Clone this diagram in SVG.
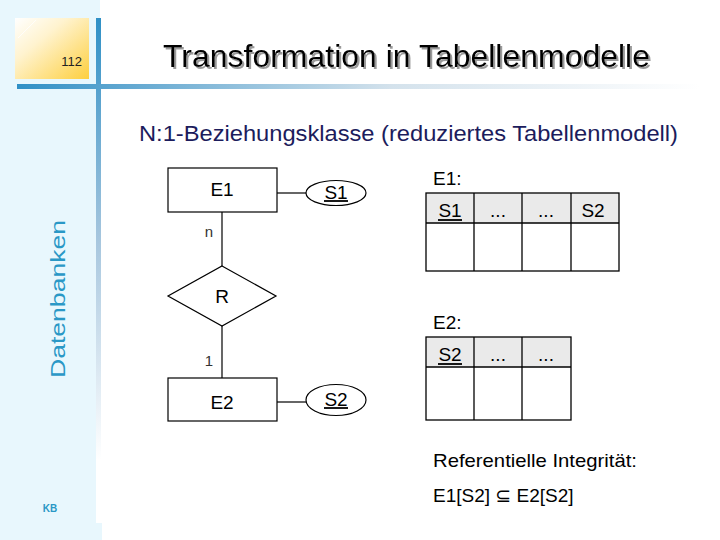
<svg xmlns="http://www.w3.org/2000/svg" width="720" height="540" viewBox="0 0 720 540">
  <defs>
    <linearGradient id="gOrange" x1="0" y1="0" x2="1" y2="1">
      <stop offset="0" stop-color="#ffffff"/>
      <stop offset="0.35" stop-color="#fff3cf"/>
      <stop offset="1" stop-color="#fdcf3e"/>
    </linearGradient>
    <linearGradient id="gVert" x1="0" y1="18" x2="0" y2="460" gradientUnits="userSpaceOnUse">
      <stop offset="0" stop-color="#2f90c6"/>
      <stop offset="0.5" stop-color="#a6c6de"/>
      <stop offset="1" stop-color="#ffffff"/>
    </linearGradient>
    <linearGradient id="gHor" x1="15" y1="0" x2="700" y2="0" gradientUnits="userSpaceOnUse">
      <stop offset="0" stop-color="#2f90c6"/>
      <stop offset="0.15" stop-color="#5ea6d0"/>
      <stop offset="0.55" stop-color="#d4e2ec"/>
      <stop offset="1" stop-color="#ffffff"/>
    </linearGradient>
    <filter id="shadow" x="-5%" y="-20%" width="110%" height="150%">
      <feOffset in="SourceAlpha" dx="2" dy="2" result="off"/>
      <feFlood flood-color="#9a9a9a"/>
      <feComposite in2="off" operator="in" result="sh"/>
      <feMerge>
        <feMergeNode in="sh"/>
        <feMergeNode in="SourceGraphic"/>
      </feMerge>
    </filter>
    <style>
      .t { font-family: "Liberation Sans", "DejaVu Sans", sans-serif; }
      .box { fill: #ffffff; stroke: #000000; stroke-width: 1.2; }
      .ln { stroke: #000000; stroke-width: 1.2; fill: none; }
      .lbl { font-size: 19px; fill: #000000; text-anchor: middle; }
      .card { font-size: 15px; fill: #333333; text-anchor: middle; }
      .hdr { fill: #eaeaea; stroke: none; }
      .grid { stroke: #000000; stroke-width: 1.3; fill: none; }
      .cell { font-size: 19px; fill: #000000; text-anchor: middle; }
      .ul { stroke: #000000; stroke-width: 1.8; }
    </style>
  </defs>

  <!-- background -->
  <rect x="0" y="0" width="720" height="540" fill="#ffffff"/>
  <rect x="0" y="0" width="100" height="540" fill="#e8f7fd"/>
  <rect x="0" y="523" width="102" height="17" fill="#e8f7fd"/>

  <!-- decoration -->
  <rect x="15" y="18" width="74" height="61" fill="url(#gOrange)"/>
  <path d="M18 38 L36 20" stroke="#ffffff" stroke-width="1" opacity="0.8"/>
  <rect x="96" y="18" width="5" height="505" fill="url(#gVert)"/>
  <rect x="17" y="84" width="700" height="5" fill="url(#gHor)"/>
  <text class="t" x="82" y="66" font-size="13" fill="#222222" text-anchor="end">112</text>

  <!-- title -->
  <text class="t" x="163" y="67" font-size="31.5" fill="#000000" filter="url(#shadow)" textLength="487" lengthAdjust="spacingAndGlyphs">Transformation in Tabellenmodelle</text>

  <text class="t" x="139" y="141" font-size="22" fill="#1c1c5c" textLength="539" lengthAdjust="spacingAndGlyphs">N:1-Beziehungsklasse (reduziertes Tabellenmodell)</text>

  <text class="t" transform="translate(65,299) rotate(-90)" font-size="21" fill="#2a98c6" text-anchor="middle" textLength="158" lengthAdjust="spacingAndGlyphs">Datenbanken</text>
  <text class="t" x="50" y="512" font-size="10" font-weight="bold" fill="#2a98c6" text-anchor="middle">KB</text>

  <!-- connectors -->
  <g id="connectors">
    <line class="ln" x1="277" y1="193" x2="306" y2="193"/>
    <line class="ln" x1="222" y1="212" x2="222" y2="266"/>
    <line class="ln" x1="222" y1="326" x2="222" y2="378"/>
    <line class="ln" x1="277" y1="402" x2="306" y2="402"/>
    <text class="t card" x="209" y="237">n</text>
    <text class="t card" x="209" y="366">1</text>
  </g>

  <g id="E1">
    <rect class="box" x="168" y="168" width="109" height="44"/>
    <text class="t lbl" x="222" y="196">E1</text>
  </g>
  <g id="S1">
    <ellipse class="box" cx="336" cy="193" rx="30" ry="12.5"/>
    <text class="t lbl" x="336" y="199">S1</text>
    <line class="ul" x1="324" y1="201" x2="348" y2="201"/>
  </g>
  <g id="R">
    <polygon class="box" points="222,266 276,296 222,326 168,296"/>
    <text class="t lbl" x="222" y="303">R</text>
  </g>
  <g id="E2">
    <rect class="box" x="168" y="378" width="109" height="43"/>
    <text class="t lbl" x="222" y="409">E2</text>
  </g>
  <g id="S2">
    <ellipse class="box" cx="336" cy="400" rx="30" ry="15.5"/>
    <text class="t lbl" x="336" y="406">S2</text>
    <line class="ul" x1="324" y1="408" x2="348" y2="408"/>
  </g>

  <!-- table E1 -->
  <g id="table-E1">
    <text class="t" x="433" y="185" font-size="19" fill="#000000">E1:</text>
    <rect class="hdr" x="426" y="193" width="193" height="30"/>
    <rect class="grid" x="426" y="193" width="193" height="78"/>
    <line class="grid" x1="426" y1="223" x2="619" y2="223"/>
    <line class="grid" x1="474" y1="193" x2="474" y2="271"/>
    <line class="grid" x1="522" y1="193" x2="522" y2="271"/>
    <line class="grid" x1="571" y1="193" x2="571" y2="271"/>
    <text class="t cell" x="450" y="217">S1</text>
    <line class="ul" x1="438" y1="220" x2="462" y2="220"/>
    <text class="t cell" x="498" y="217">...</text>
    <text class="t cell" x="546" y="217">...</text>
    <text class="t cell" x="593" y="217">S2</text>
  </g>

  <!-- table E2 -->
  <g id="table-E2">
    <text class="t" x="433" y="329" font-size="19" fill="#000000">E2:</text>
    <rect class="hdr" x="426" y="337" width="145" height="30"/>
    <rect class="grid" x="426" y="337" width="145" height="83"/>
    <line class="grid" x1="426" y1="367" x2="571" y2="367"/>
    <line class="grid" x1="474" y1="337" x2="474" y2="420"/>
    <line class="grid" x1="522" y1="337" x2="522" y2="420"/>
    <text class="t cell" x="450" y="361">S2</text>
    <line class="ul" x1="438" y1="364" x2="462" y2="364"/>
    <text class="t cell" x="498" y="361">...</text>
    <text class="t cell" x="546" y="361">...</text>
  </g>

  <g id="integrity">
    <text class="t" x="433" y="467" font-size="19" fill="#000000" textLength="204" lengthAdjust="spacingAndGlyphs">Referentielle Integrität:</text>
    <text class="t" x="433" y="502" font-size="19" fill="#000000">E1[S2] ⊆ E2[S2]</text>
  </g>
</svg>
